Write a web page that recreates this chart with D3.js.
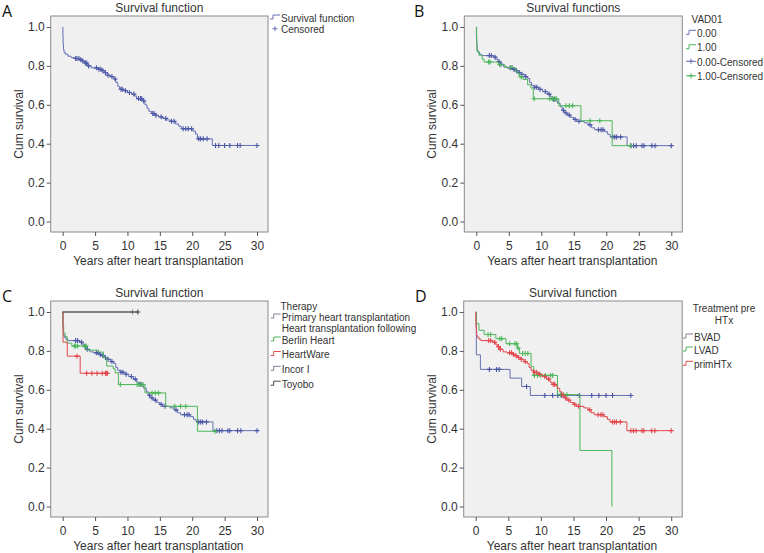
<!DOCTYPE html>
<html>
<head>
<meta charset="utf-8">
<script src="https://cdn.jsdelivr.net/npm/d3@7"></script>
<style>
  body { margin: 0; background: #fff; }
  svg { display: block; font-family: "Liberation Sans", Arial, sans-serif; }
</style>
</head>
<body>
<svg id="chart" width="764" height="553"></svg>
<script>
// tick labels
const xTicks = [0, 5, 10, 15, 20, 25, 30];
const yTicks = [0.0, 0.2, 0.4, 0.6, 0.8, 1.0];

// A: whole cohort - step times / survival after step / censored times
const allTimes = [0, 0.03, 0.07, 0.12, 0.2, 0.4, 0.8, 1.3, 1.8, 2.6, 3.0, 3.4, 3.8, 4.4, 5.6, 6.0, 6.5, 6.9, 7.4, 7.9, 8.2, 8.5, 8.8, 9.4, 10.0, 10.6, 11.1, 11.4, 12.4, 12.7, 13.0, 13.3, 13.7, 14.2, 14.8, 15.4, 16.0, 16.6, 17.4, 17.9, 18.3, 20.1, 20.5, 20.8, 23.1];
const allSurv  = [1.0, 0.95, 0.91, 0.885, 0.87, 0.86, 0.85, 0.843, 0.838, 0.832, 0.825, 0.815, 0.80, 0.79, 0.783, 0.775, 0.765, 0.752, 0.745, 0.733, 0.715, 0.695, 0.68, 0.672, 0.663, 0.655, 0.645, 0.632, 0.62, 0.60, 0.582, 0.567, 0.555, 0.546, 0.538, 0.53, 0.522, 0.515, 0.502, 0.49, 0.477, 0.465, 0.45, 0.425, 0.391];
const allCens  = [2.0, 2.2, 2.5, 2.8, 3.1, 3.5, 3.7, 4.0, 5.2, 5.6, 5.9, 6.2, 6.6, 7.0, 7.6, 8.1, 9.0, 9.2, 9.7, 10.3, 11.0, 11.7, 12.0, 12.2, 12.5, 13.9, 14.1, 14.4, 15.2, 15.9, 16.8, 17.2, 18.6, 19.0, 19.4, 19.9, 21.0, 21.3, 21.7, 22.3, 23.6, 24.1, 25.0, 25.8, 27.0, 27.4, 30.0];

// primary heart transplantation (no VAD)
const primTimes = [0, 0.02, 0.05, 0.1, 0.15, 0.25, 0.5, 0.8, 2.6, 3.0, 3.3, 3.7, 4.2, 4.8, 5.6, 6.0, 6.4, 6.9, 7.4, 7.9, 8.2, 8.5, 8.9, 9.6, 10.2, 10.9, 11.4, 11.7, 12.3, 12.5, 12.9, 13.2, 13.6, 14.0, 14.5, 15.0, 15.4, 16.6, 17.2, 17.7, 18.2, 19.7, 20.2, 20.6, 23.2];
const primSurv  = [1.0, 0.95, 0.92, 0.90, 0.88, 0.87, 0.86, 0.853, 0.845, 0.835, 0.822, 0.808, 0.795, 0.79, 0.782, 0.775, 0.766, 0.757, 0.745, 0.735, 0.715, 0.70, 0.69, 0.68, 0.668, 0.655, 0.64, 0.628, 0.62, 0.608, 0.59, 0.572, 0.558, 0.547, 0.535, 0.525, 0.515, 0.507, 0.497, 0.482, 0.472, 0.462, 0.448, 0.435, 0.39];
const primCens  = [2.0, 2.3, 2.9, 3.5, 3.8, 5.2, 5.5, 5.8, 6.2, 6.6, 7.0, 7.6, 9.0, 9.3, 9.8, 10.6, 11.2, 11.9, 12.1, 13.4, 13.8, 14.3, 15.2, 15.8, 17.5, 18.8, 19.2, 19.5, 21.0, 21.3, 21.6, 22.2, 23.8, 24.2, 24.6, 25.5, 25.8, 27.0, 27.5, 30.0];

// any VAD before transplantation
const vadTimes = [0, 0.05, 0.1, 0.4, 0.9, 1.2, 3.4, 4.4, 6.0, 6.3, 6.6, 7.2, 7.9, 8.4, 8.77, 12.7, 16.1, 20.9];
const vadSurv  = [1.0, 0.93, 0.875, 0.855, 0.835, 0.82, 0.806, 0.792, 0.775, 0.763, 0.743, 0.73, 0.703, 0.686, 0.631, 0.595, 0.518, 0.39];
const vadCens  = [1.9, 2.1, 3.6, 5.3, 6.9, 8.9, 11.3, 11.7, 12.0, 12.3, 13.8, 14.3, 14.8, 17.5, 19.0, 23.7];

// Berlin Heart
const berlinTimes = [0, 0.05, 0.15, 0.4, 0.7, 1.4, 3.7, 5.5, 6.3, 6.8, 7.8, 8.1, 8.6, 12.7, 15.9, 20.8];
const berlinSurv  = [1.0, 0.93, 0.89, 0.873, 0.84, 0.825, 0.804, 0.794, 0.765, 0.722, 0.708, 0.687, 0.627, 0.584, 0.515, 0.387];
const berlinCens  = [1.8, 2.0, 2.3, 3.4, 3.6, 8.9, 11.5, 11.8, 12.1, 12.4, 13.8, 14.3, 14.8, 17.3, 18.2, 19.0, 23.5];

// HeartWare
const hwTimes = [0, 0.05, 0.7, 2.7];
const hwSurv  = [1.0, 0.845, 0.773, 0.685];
const hwCens  = [2.2, 3.7, 4.5, 5.3, 6.1, 6.6, 6.8, 6.9];

// Incor I, Toyobo
const incorTimes = [0];
const incorSurv  = [1.0];
const incorCens  = [10.8];
const toyoboTimes = [0];
const toyoboSurv  = [1.0];
const toyoboCens  = [11.6];

// BVAD
const bvadTimes = [0, 0.1, 0.72, 5.27, 7.05, 8.38];
const bvadSurv  = [1.0, 0.78, 0.705, 0.66, 0.617, 0.571];
const bvadCens  = [2.1, 3.2, 3.6, 7.8, 10.6, 11.8, 12.6, 13.2, 15.9, 17.8, 18.9, 20.0, 21.0, 23.8];

// LVAD
const lvadTimes = [0, 0.1, 0.5, 1.3, 3.1, 4.65, 6.4, 6.7, 8.5, 8.9, 12.55, 16.0, 20.9];
const lvadSurv  = [1.0, 0.94, 0.906, 0.884, 0.863, 0.837, 0.815, 0.787, 0.72, 0.674, 0.575, 0.288, 0.0];
const lvadCens  = [1.9, 2.3, 3.7, 4.0, 5.2, 6.0, 6.3, 6.5, 7.2, 7.6, 8.0, 9.0, 9.5, 10.0, 10.7, 11.5, 11.8, 13.0, 13.5, 14.0];

const blue = "#6670b6", blueDark = "#4a56a6", green = "#4cb65a", red = "#e2464d", incorCol = "#8b7f98", toyoboCol = "#4a4444";

const svg = d3.select("#chart");

// survival value at time t (KM step lookup)
function survAt(times, surv, t) {
    const i = d3.bisectRight(times, t) - 1;
    return surv[Math.max(0, i)];
}

function drawPanel(p) {
    const g = svg.append("g");

    const x = d3.scaleLinear().domain([0, 30]).range([p.left + 12, p.left + p.width - 11]);
    const y = d3.scaleLinear().domain([0, 1]).range([p.top + p.height - 10.5, p.top + 11]);

    g.append("rect")
        .attr("x", p.left).attr("y", p.top)
        .attr("width", p.width).attr("height", p.height)
        .attr("fill", "#f0f0f0")
        .attr("stroke", "#8a8a8a");

    const xAxis = d3.axisBottom(x).tickValues(xTicks).tickFormat(d3.format("d")).tickSize(4).tickPadding(5);
    const yAxis = d3.axisLeft(y).tickValues(yTicks).tickFormat(d3.format(".1f")).tickSize(4).tickPadding(2);

    const gx = g.append("g").attr("transform", `translate(0, ${p.top + p.height})`).call(xAxis);
    const gy = g.append("g").attr("transform", `translate(${p.left}, 0)`).call(yAxis);
    [gx, gy].forEach(a => {
        a.select(".domain").remove();
        a.selectAll("line").attr("stroke", "#555");
        a.selectAll("text").attr("fill", "#333").style("font-size", "12px")
            .style("font-family", "Liberation Sans, Arial, sans-serif");
    });

    const line = d3.line().curve(d3.curveStepAfter).x(d => x(d[0])).y(d => y(d[1]));

    p.series.forEach(s => {
        const end = d3.max([...s.cens, s.times[s.times.length - 1]]);
        const pts = s.times.map((t, i) => [t, s.surv[i]]);
        pts.push([end, s.surv[s.surv.length - 1]]);
        g.append("path")
            .attr("d", line(pts))
            .attr("fill", "none")
            .attr("stroke", s.color)
            .attr("stroke-width", 1);

        g.selectAll(null)
            .data(s.cens)
            .enter()
            .append("path")
                .attr("d", t => {
                    const cx = x(t), cy = y(survAt(s.times, s.surv, t));
                    return `M${cx - 2.5},${cy}H${cx + 2.5}M${cx},${cy - 2.5}V${cy + 2.5}`;
                })
                .attr("stroke", s.censColor || s.color)
                .attr("stroke-width", 1.1);
    });

    // title
    g.append("text")
        .attr("x", p.left + p.width / 2)
        .attr("y", p.top - 4.5)
        .style("text-anchor", "middle")
        .style("font-size", "12px")
        .attr("fill", "#333")
        .text(p.title);

    // panel letter
    g.append("text")
        .attr("x", p.labelX)
        .attr("y", p.top + 1)
        .style("font-size", "16px")
        .style("font-family", "Open Sans, sans-serif")
        .attr("fill", "#111")
        .text(p.label);

    // y label
    g.append("text")
        .attr("transform", "rotate(-90)")
        .attr("x", -(p.top + p.height / 2))
        .attr("y", p.left - 28)
        .style("text-anchor", "middle")
        .style("font-size", "12px")
        .attr("fill", "#333")
        .text("Cum survival");

    // x label
    g.append("text")
        .attr("x", p.left + p.width / 2 - 1)
        .attr("y", p.top + p.height + 33)
        .style("text-anchor", "middle")
        .style("font-size", "12px")
        .attr("fill", "#333")
        .text("Years after heart transplantation");

    // legend
    const lg = g.append("g").style("font-size", "10px").attr("fill", "#333");
    p.legend.forEach(it => {
        if (it.type === "step") {
            lg.append("path")
                .attr("d", `M${it.x - 11},${it.y + 1}H${it.x - 8}V${it.y - 3}H${it.x - 1}`)
                .attr("fill", "none").attr("stroke", it.color).attr("stroke-width", 1);
        } else if (it.type === "plus" || it.type === "plusline") {
            const cx = it.x - 6;
            lg.append("path")
                .attr("d", `M${cx - 2.5},${it.y - 1}H${cx + 2.5}M${cx},${it.y - 3.5}V${it.y + 1.5}` +
                    (it.type === "plusline" ? `M${it.x - 11},${it.y - 1}H${it.x - 1}` : ""))
                .attr("fill", "none").attr("stroke", it.color).attr("stroke-width", 1);
        }
        lg.append("text")
            .attr("x", it.x)
            .attr("y", it.y + 3.5)
            .style("text-anchor", it.anchor || "start")
            .text(it.text);
    });
}

drawPanel({
    label: "A", labelX: 2, title: "Survival function",
    left: 50.7, top: 16, width: 217.3, height: 216,
    series: [
        { times: allTimes, surv: allSurv, cens: allCens, color: blue, censColor: blueDark }
    ],
    legend: [
        { type: "step", text: "Survival function", color: blue, x: 281, y: 18 },
        { type: "plus", text: "Censored", color: blue, x: 281, y: 29.7 }
    ]
});

drawPanel({
    label: "B", labelX: 414, title: "Survival functions",
    left: 464.3, top: 16, width: 218, height: 216,
    series: [
        { times: primTimes, surv: primSurv, cens: primCens, color: blue, censColor: blueDark },
        { times: vadTimes, surv: vadSurv, cens: vadCens, color: green }
    ],
    legend: [
        { type: "head", text: "VAD01", x: 691.5, y: 19.3 },
        { type: "step", text: "0.00", color: blue, x: 697, y: 33.3 },
        { type: "step", text: "1.00", color: green, x: 697, y: 47.7 },
        { type: "plusline", text: "0.00-Censored", color: blue, x: 697, y: 62.3 },
        { type: "plusline", text: "1.00-Censored", color: green, x: 697, y: 76.8 }
    ]
});

drawPanel({
    label: "C", labelX: 2, title: "Survival function",
    left: 50.7, top: 301, width: 217.3, height: 216,
    series: [
        { times: primTimes, surv: primSurv, cens: primCens, color: blue, censColor: blueDark },
        { times: berlinTimes, surv: berlinSurv, cens: berlinCens, color: green },
        { times: hwTimes, surv: hwSurv, cens: hwCens, color: red },
        { times: incorTimes, surv: incorSurv, cens: incorCens, color: incorCol },
        { times: toyoboTimes, surv: toyoboSurv, cens: toyoboCens, color: toyoboCol }
    ],
    legend: [
        { type: "head", text: "Therapy", x: 280.5, y: 306.5 },
        { type: "step", text: "Primary heart transplantation", color: incorCol, x: 281.7, y: 317 },
        { type: "head", text: "Heart transplantation following", x: 281.7, y: 328.5 },
        { type: "step", text: "Berlin Heart", color: green, x: 281.7, y: 340 },
        { type: "step", text: "HeartWare", color: red, x: 281.7, y: 354.5 },
        { type: "step", text: "Incor I", color: incorCol, x: 281.7, y: 369.3 },
        { type: "step", text: "Toyobo", color: toyoboCol, x: 281.7, y: 384.2 }
    ]
});

drawPanel({
    label: "D", labelX: 415, title: "Survival function",
    left: 463.7, top: 301, width: 218.5, height: 216,
    series: [
        { times: bvadTimes, surv: bvadSurv, cens: bvadCens, color: blue, censColor: blueDark },
        { times: lvadTimes, surv: lvadSurv, cens: lvadCens, color: green },
        { times: primTimes, surv: primSurv, cens: primCens, color: red }
    ],
    legend: [
        { type: "head", text: "Treatment pre", x: 724, y: 308.7, anchor: "middle" },
        { type: "head", text: "HTx", x: 724, y: 320.3, anchor: "middle" },
        { type: "step", text: "BVAD", color: incorCol, x: 694, y: 337 },
        { type: "step", text: "LVAD", color: green, x: 694, y: 350 },
        { type: "step", text: "primHTx", color: red, x: 694, y: 364.3 }
    ]
});
</script>
</body>
</html>
